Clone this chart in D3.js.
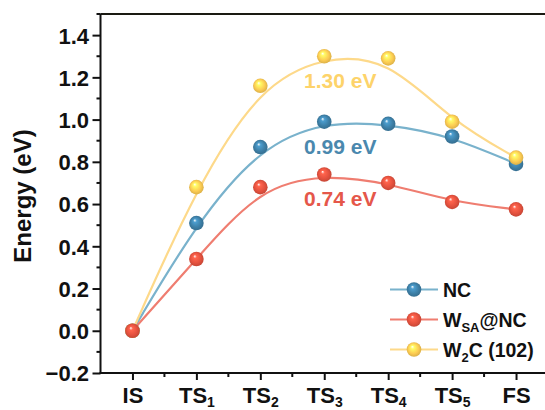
<!DOCTYPE html>
<html>
<head>
<meta charset="utf-8">
<script src="https://cdn.jsdelivr.net/npm/d3@7"></script>
<style>
  html, body { margin: 0; padding: 0; background: #fff; }
  svg { display: block; font-family: "Liberation Sans", Arial, sans-serif; }
</style>
</head>
<body>
<svg id="chart" width="545" height="410"></svg>
<script>
// Reaction coordinate states (main text + subscript)
const catMain = ["IS", "TS", "TS", "TS", "TS", "TS", "FS"];
const catSub  = ["",   "1",  "2",  "3",  "4",  "5",  ""];

// Relative energies (eV) along the pathway
const ncValues  = [0, 0.51, 0.87, 0.99, 0.98, 0.92, 0.79];
const wsaValues = [0, 0.34, 0.68, 0.74, 0.70, 0.61, 0.575];
const w2cValues = [0, 0.68, 1.16, 1.30, 1.29, 0.99, 0.82];

// Energy barriers written next to the TS3 point
const barrierIndex = 3;

const yTicks = [-0.2, 0, 0.2, 0.4, 0.6, 0.8, 1.0, 1.2, 1.4];
const yMinorTicks = [-0.1, 0.1, 0.3, 0.5, 0.7, 0.9, 1.1, 1.3, 1.5];

const series = [
  { key: "nc",  name: [["NC", ""]],                 values: ncValues,  marker: "#3d7fa6", line: "#79b2cc", text: "#4a88ae" },
  { key: "w2c", name: [["W", ""], ["2", "sub"], ["C (102)", ""]], values: w2cValues, marker: "#fccb52", line: "#fdd98a", text: "#fdd36a" },
  { key: "wsa", name: [["W", ""], ["SA", "sub"], ["@NC", ""]],    values: wsaValues, marker: "#e4513e", line: "#ef7d70", text: "#e5574a" }
];
// legend order
const legendOrder = ["nc", "wsa", "w2c"];

const svg = d3.select("#chart");

const x = d3.scaleLinear().domain([-0.5, 6.5]).range([100.5, 548]);
const y = d3.scaleLinear().domain([-0.2, 1.5]).range([373, 14]);

// Sphere-like marker gradients
const defs = svg.append("defs");
series.forEach(s => {
  const base = d3.color(s.marker);
  const g = defs.append("radialGradient")
    .attr("id", "ball-" + s.key)
    .attr("cx", "50%").attr("cy", "50%").attr("r", "55%")
    .attr("fx", "38%").attr("fy", "30%");
  g.append("stop").attr("offset", "0%").attr("stop-color", "#ffffff");
  g.append("stop").attr("offset", "22%").attr("stop-color", base.brighter(0.6).formatHex());
  g.append("stop").attr("offset", "65%").attr("stop-color", base.formatHex());
  g.append("stop").attr("offset", "100%").attr("stop-color", base.darker(0.5).formatHex());
});

// Top frame line
svg.append("line")
  .attr("x1", x.range()[0]).attr("x2", 545)
  .attr("y1", y(1.5)).attr("y2", y(1.5))
  .attr("stroke", "#1a1a12").attr("stroke-width", 2);

// Y axis
const yAxis = svg.append("g")
  .attr("transform", `translate(${x.range()[0]},0)`)
  .call(d3.axisLeft(y).tickValues(yTicks).tickSize(8).tickSizeOuter(0)
        .tickFormat(d3.format(".1f")));
yAxis.select(".domain").attr("stroke", "#111").attr("stroke-width", 2)
  .attr("d", `M0,${y(-0.2)}V${y(1.5)}`);
yAxis.selectAll(".tick line").attr("stroke", "#111").attr("stroke-width", 2);
yAxis.selectAll(".tick text")
  .attr("x", -11.5).attr("dy", "0.36em")
  .attr("font-size", 22).attr("font-weight", "bold").attr("fill", "#111")
  .attr("font-family", "Liberation Sans, Arial, sans-serif");
yAxis.selectAll(".minor").data(yMinorTicks).enter().append("line")
  .attr("x1", -4).attr("x2", 0).attr("y1", d => y(d)).attr("y2", d => y(d))
  .attr("stroke", "#111").attr("stroke-width", 2);

// X axis
const xAxis = svg.append("g")
  .attr("transform", `translate(0,${y(-0.2)})`)
  .call(d3.axisBottom(x).tickValues(d3.range(catMain.length)).tickSize(7).tickSizeOuter(0)
        .tickFormat(() => ""));
xAxis.select(".domain").attr("stroke", "#111").attr("stroke-width", 2)
  .attr("d", `M${x.range()[0] - 1},0H545`);
xAxis.selectAll(".tick line").attr("stroke", "#111").attr("stroke-width", 2);
xAxis.selectAll(".tick text").each(function(d) {
  const t = d3.select(this)
    .attr("y", 29.5).attr("dy", null)
    .attr("font-size", 22).attr("font-weight", "bold").attr("fill", "#111")
    .attr("font-family", "Liberation Sans, Arial, sans-serif");
  t.text(null);
  t.append("tspan").text(catMain[d]);
  if (catSub[d]) t.append("tspan").attr("font-size", 14).attr("dy", 4).text(catSub[d]);
});
xAxis.selectAll(".minor").data(d3.range(catMain.length).map(i => i + 0.5)).enter().append("line")
  .attr("x1", d => x(d)).attr("x2", d => x(d)).attr("y1", 0).attr("y2", 4)
  .attr("stroke", "#111").attr("stroke-width", 2);

// Y axis title
svg.append("text")
  .attr("transform", `translate(31,${196}) rotate(-90)`)
  .attr("text-anchor", "middle")
  .attr("font-size", 24).attr("font-weight", "bold").attr("fill", "#111")
  .text("Energy (eV)");

// Smoothed energy profiles
const line = d3.line()
  .x((d, i) => x(i))
  .y(d => y(d))
  .curve(d3.curveBasis);

const lines = svg.append("g");
series.forEach(s => {
  lines.append("path")
    .datum(s.values)
    .attr("d", line)
    .attr("fill", "none")
    .attr("stroke", s.line)
    .attr("stroke-width", 2.2);
});

// Markers
series.forEach(s => {
  svg.append("g").selectAll("circle")
    .data(s.values)
    .enter().append("circle")
    .attr("cx", (d, i) => x(i))
    .attr("cy", d => y(d))
    .attr("r", 7.3)
    .attr("fill", `url(#ball-${s.key})`);
});

// Barrier labels
series.forEach(s => {
  const v = s.values[barrierIndex];
  svg.append("text")
    .attr("x", x(barrierIndex) + 16)
    .attr("y", y(v) + 32)
    .attr("text-anchor", "middle")
    .attr("font-size", 21).attr("font-weight", "bold")
    .attr("fill", s.text)
    .text(d3.format(".2f")(v) + " eV");
});

// Legend
const legend = svg.append("g");
const legendY = [289.5, 319.5, 349.5];
legendOrder.forEach((k, i) => {
  const s = series.find(d => d.key === k);
  const g = legend.append("g").attr("transform", `translate(0,${legendY[i]})`);
  g.append("line").attr("x1", 390).attr("x2", 438).attr("y1", 0).attr("y2", 0)
    .attr("stroke", s.line).attr("stroke-width", 2.2);
  g.append("circle").attr("cx", 414).attr("cy", 0).attr("r", 7.3)
    .attr("fill", `url(#ball-${s.key})`);
  const t = g.append("text").attr("x", 443).attr("y", 7)
    .attr("font-size", 19.5).attr("font-weight", "bold").attr("fill", "#111");
  let shifted = false;
  s.name.forEach(([txt, kind]) => {
    const ts = t.append("tspan").text(txt);
    if (kind === "sub") { ts.attr("font-size", 13).attr("dy", 5); shifted = true; }
    else if (shifted) { ts.attr("dy", -5); shifted = false; }
  });
});
</script>
</body>
</html>
